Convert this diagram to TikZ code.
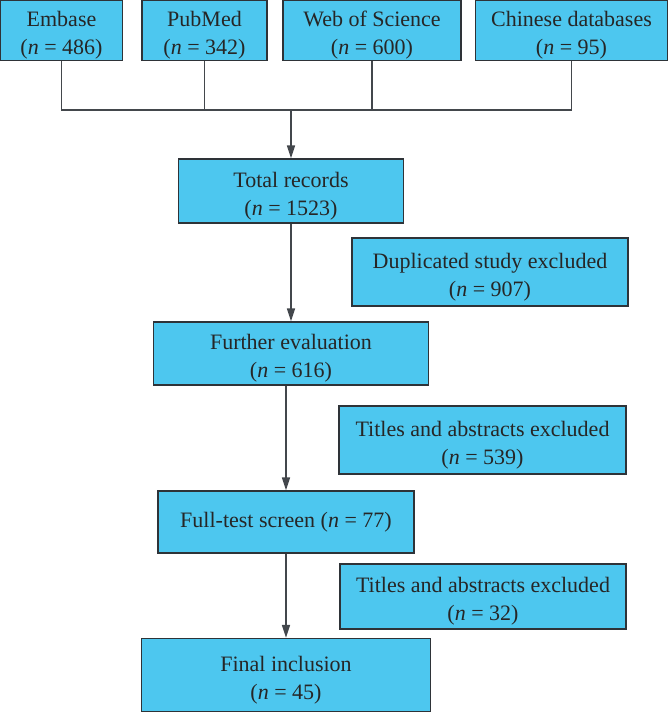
\documentclass[tikz,border=0pt]{standalone}
\usepackage{fontspec}
\setmainfont{Liberation Serif}
\usetikzlibrary{arrows.meta}
\definecolor{boxfill}{HTML}{4DC7EF}
\definecolor{edge}{HTML}{2E3338}
\tikzset{
  box/.style={draw=edge, line width=1.3pt, fill=boxfill, align=center, inner sep=0pt,
    font=\fontsize{22}{28}\selectfont, text=black!85},
  conn/.style={draw=edge!90, line width=1.5pt},
  arr/.style={conn, -{Triangle[length=13pt,width=8pt]}}
}
\newcommand{\nn}[1]{(\textit{n} = #1)}
\newcommand{\tl}[2]{\raisebox{-4.5pt}[\height][\depth]{\begin{tabular}{@{}c@{}}#1\\#2\end{tabular}}}
\begin{document}
\begin{tikzpicture}[x=1pt,y=-1pt]
\useasboundingbox (0,0) rectangle (670,713);
\node[box, minimum width=122pt, minimum height=60pt] (emb) at (61.5,30.5) {\tl{Embase}{\nn{486}}};
\node[box, minimum width=125pt, minimum height=60pt] (pub) at (204.5,30.5) {\tl{PubMed}{\nn{342}}};
\node[box, minimum width=178pt, minimum height=60pt] (wos) at (372,30.5) {\tl{Web of Science}{\nn{600}}};
\node[box, minimum width=192pt, minimum height=60pt] (chi) at (571.5,30.5) {\tl{Chinese databases}{\nn{95}}};
\coordinate (j) at (291,110);
\node[box, minimum width=225pt, minimum height=64pt] (tot) at (291,191) {\tl{Total records}{\nn{1523}}};
\node[box, minimum width=276pt, minimum height=68pt] (dup) at (490,272) {\tl{Duplicated study excluded}{\nn{907}}};
\node[box, minimum width=275pt, minimum height=63pt] (fur) at (291,353.5) {\tl{Further evaluation}{\nn{616}}};
\node[box, minimum width=287pt, minimum height=68pt] (ta1) at (482.5,440) {\tl{Titles and abstracts excluded}{\nn{539}}};
\node[box, minimum width=256pt, minimum height=62pt] (ful) at (286,522) {Full-test screen \nn{77}};
\node[box, minimum width=286pt, minimum height=65pt] (ta2) at (483,596.5) {\tl{Titles and abstracts excluded}{\nn{32}}};
\node[box, minimum width=289pt, minimum height=73pt] (fin) at (286,675) {\tl{Final inclusion}{\nn{45}}};
\draw[conn] (emb.south) -- (emb.south |- j) -- (chi.south |- j) -- (chi.south);
\draw[conn] (pub.south) -- (pub.south |- j);
\draw[conn] (wos.south) -- (wos.south |- j);
\draw[arr] (j) -- (j |- tot.north);
\draw[arr] (tot.south) -- (tot.south |- fur.north);
\draw[arr] (ful.north |- fur.south) -- (ful.north);
\draw[arr] (ful.south) -- (ful.south |- fin.north);
\end{tikzpicture}
\end{document}
